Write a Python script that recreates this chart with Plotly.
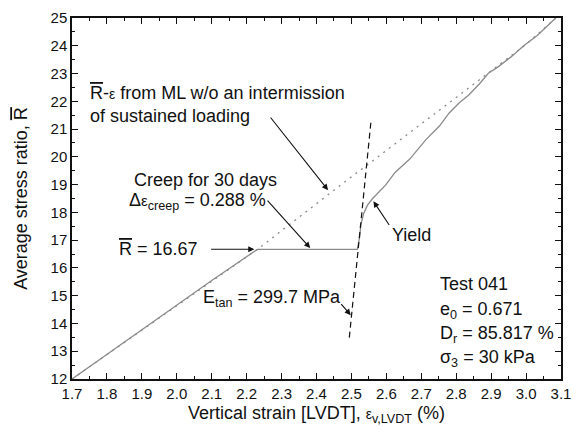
import plotly.graph_objects as go

# Measured curve (solid grey)
strain_test = [1.70, 1.90, 2.10, 2.231, 2.517, 2.523, 2.527, 2.535, 2.546, 2.560, 2.574, 2.597,
               2.625, 2.667, 2.714, 2.752, 2.780, 2.808, 2.836, 2.868, 2.892, 2.920, 2.957,
               2.994, 3.032, 3.085]
ratio_test = [12.00, 13.78, 15.55, 16.67, 16.67, 17.07, 17.55, 17.96, 18.26, 18.49, 18.67, 18.97,
              19.44, 19.92, 20.63, 21.11, 21.58, 21.94, 22.23, 22.65, 23.01, 23.24, 23.60,
              24.01, 24.37, 25.00]

# Monotonic loading curve w/o intermission (dotted grey)
strain_ml = [1.70, 2.00, 2.231, 2.45, 2.65, 2.87, 3.00, 3.085]
ratio_ml = [12.00, 14.65, 16.67, 18.80, 20.70, 22.80, 24.05, 25.00]

# Tangent line (dashed black)
strain_tan = [2.494, 2.556]
ratio_tan = [13.49, 21.28]

FONT = "Liberation Sans, Arial, sans-serif"
OL = '<span style="text-decoration:overline">R</span>'

fig = go.Figure()
fig.add_trace(go.Scatter(x=strain_ml, y=ratio_ml, mode="lines",
                         line=dict(color="#8a8a8a", width=1.3, dash="2px,5px"), hoverinfo="skip"))
fig.add_trace(go.Scatter(x=strain_test, y=ratio_test, mode="lines",
                         line=dict(color="#8a8a8a", width=1.3), hoverinfo="skip"))
fig.add_trace(go.Scatter(x=strain_tan, y=ratio_tan, mode="lines",
                         line=dict(color="#111111", width=1.2, dash="6px,4px"), hoverinfo="skip"))

def arrow(x, y, ax, ay):
    fig.add_annotation(x=x, y=y, ax=ax, ay=ay, xref="x", yref="y", axref="x", ayref="y",
                       text="", showarrow=True, arrowhead=2, arrowsize=1.1, arrowwidth=1.1,
                       arrowcolor="#111111", standoff=0, startstandoff=0)

arrow(2.433, 18.80, 2.265, 21.47)   # ML
arrow(2.382, 16.72, 2.256, 18.48)   # creep
arrow(2.222, 16.67, 2.094, 16.67)   # R = 16.67
arrow(2.563, 18.40, 2.611, 17.49)   # yield
arrow(2.498, 14.30, 2.467, 14.75)   # E_tan

def text(x, y, s, anchor="left", yanchor="middle", size=18):
    fig.add_annotation(x=x, y=y, xref="x", yref="y", text=s, showarrow=False,
                       xanchor=anchor, yanchor=yanchor, align="left",
                       font=dict(family=FONT, size=size, color="#111111"))

text(1.746, 22.29, OL + '-<span style="font-size:14px">ε</span> from ML w/o an intermission')
text(1.746, 21.47, "of sustained loading")
text(1.872, 19.15, "Creep for 30 days")
text(1.858, 18.38, 'Δ<span style="font-size:15px">ε</span><sub>creep</sub> = 0.288 %')
text(1.830, 16.67, OL + " = 16.67")
text(2.069, 14.90, "E<sub>tan</sub> = 299.7 MPa")
text(2.610, 17.18, "Yield")
text(2.747, 15.42, "Test 041")
text(2.747, 14.46, "e<sub>0</sub> = 0.671")
text(2.747, 13.62, "D<sub>r</sub> = 85.817 %")
text(2.747, 12.74, "σ<sub>3</sub> = 30 kPa")

axis_common = dict(showline=True, linecolor="#111111", linewidth=1.5, mirror="allticks",
                   ticks="inside", ticklen=6, tickwidth=1.3, tickcolor="#111111",
                   showgrid=False, zeroline=False,
                   tickfont=dict(family=FONT, size=15, color="#111111"))

fig.update_xaxes(range=[1.7, 3.1], dtick=0.1, tick0=1.7, tickformat=".1f",
                 minor=dict(dtick=0.05, ticks="inside", ticklen=3, tickwidth=1.1, tickcolor="#111111"),
                 title=dict(text='Vertical strain [LVDT], <span style="font-size:14px">ε</span><sub>v,LVDT</sub> (%)',
                            font=dict(family=FONT, size=18, color="#111111"), standoff=6),
                 **axis_common)
fig.update_yaxes(range=[12, 25], dtick=1, tick0=12,
                 minor=dict(dtick=0.5, ticks="inside", ticklen=3, tickwidth=1.1, tickcolor="#111111"),
                 title=dict(text="Average stress ratio, " + OL,
                            font=dict(family=FONT, size=18, color="#111111"), standoff=18),
                 **axis_common)

fig.update_layout(width=580, height=437, margin=dict(l=72, r=9, t=14, b=58),
                  plot_bgcolor="white", paper_bgcolor="white", showlegend=False)

fig.write_html("out.html")
